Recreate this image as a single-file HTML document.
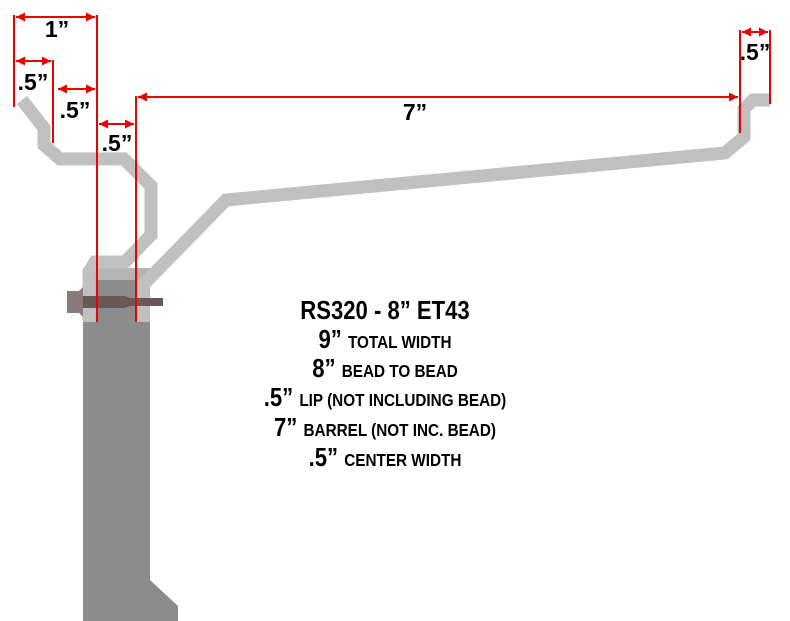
<!DOCTYPE html>
<html><head><style>
html,body{margin:0;padding:0;background:#fff;width:790px;height:621px;overflow:hidden}
svg{display:block}
.d{font-family:"Liberation Sans",sans-serif;font-weight:bold;fill:#000}
</style></head><body>
<svg width="790" height="621" viewBox="0 0 790 621" xmlns="http://www.w3.org/2000/svg">
<defs>
<marker id="a" viewBox="0 0 10 10" refX="10" refY="5" markerWidth="5" markerHeight="4.5" orient="auto-start-reverse"><path d="M0 0L10 5L0 10z" fill="#e00"/></marker>
</defs>
<!-- hub -->
<polygon points="83,320 150,320 150,580 178,606 178,621 83,621" fill="#8c8c8c"/>
<rect x="83" y="268" width="67" height="54" fill="#b4b4b4"/>
<rect x="97" y="280" width="40" height="42" fill="#8c8c8c"/>
<!-- rim -->
<polyline points="22,100 44,128 44,145 60,159 124,159 151,186 151,235 125,262 95,262 89,272 89,322" fill="none" stroke="#c0c0c0" stroke-width="13" stroke-linejoin="miter"/>
<polyline points="143,322 143,285 226,200 725,153 744,137 744,109 753,100 770,100" fill="none" stroke="#c0c0c0" stroke-width="13"/>
<!-- bolt -->
<polygon points="67,291 79,291 83,287 83,317 79,313 67,313" fill="#8a7a7a"/>
<polygon points="83,296 125,296 130,298 163,298 163,306 130,306 125,308 83,308" fill="#6a5858"/>
<!-- red lines -->
<g stroke="#e00" stroke-width="2" fill="none">
<line x1="14" y1="15" x2="14" y2="107"/>
<line x1="97" y1="15" x2="97" y2="322"/>
<line x1="53" y1="60" x2="53" y2="143"/>
<line x1="136" y1="96" x2="136" y2="322"/>
<line x1="740" y1="30" x2="740" y2="133"/>
<line x1="770" y1="30" x2="770" y2="104"/>
<line x1="16" y1="17" x2="95" y2="17" marker-start="url(#a)" marker-end="url(#a)"/>
<line x1="16" y1="61" x2="51" y2="61" marker-start="url(#a)" marker-end="url(#a)"/>
<line x1="58" y1="89" x2="95" y2="89" marker-start="url(#a)" marker-end="url(#a)"/>
<line x1="99" y1="124" x2="134" y2="124" marker-start="url(#a)" marker-end="url(#a)"/>
<line x1="138" y1="97" x2="738" y2="97" marker-start="url(#a)" marker-end="url(#a)"/>
<line x1="742" y1="32" x2="768" y2="32" marker-start="url(#a)" marker-end="url(#a)"/>
</g>
<g class="d" font-size="23" text-anchor="middle">
<text x="57" y="37">1”</text>
<text x="33" y="90">.5”</text>
<text x="75" y="118">.5”</text>
<text x="117" y="151">.5”</text>
<text x="415" y="120">7”</text>
<text x="755" y="60">.5”</text>
</g>
<g class="d" text-anchor="middle" font-size="26" transform="translate(385,0) scale(0.85,1)">
<text x="0" y="319">RS320 - 8” ET43</text>
<text x="0" y="348">9” <tspan font-size="18">TOTAL WIDTH</tspan></text>
<text x="0" y="377">8” <tspan font-size="18">BEAD TO BEAD</tspan></text>
<text x="0" y="406">.5” <tspan font-size="18">LIP (NOT INCLUDING BEAD)</tspan></text>
<text x="0" y="436">7” <tspan font-size="18">BARREL (NOT INC. BEAD)</tspan></text>
<text x="0" y="466">.5” <tspan font-size="18">CENTER WIDTH</tspan></text>
</g>
</svg>
</body></html>
